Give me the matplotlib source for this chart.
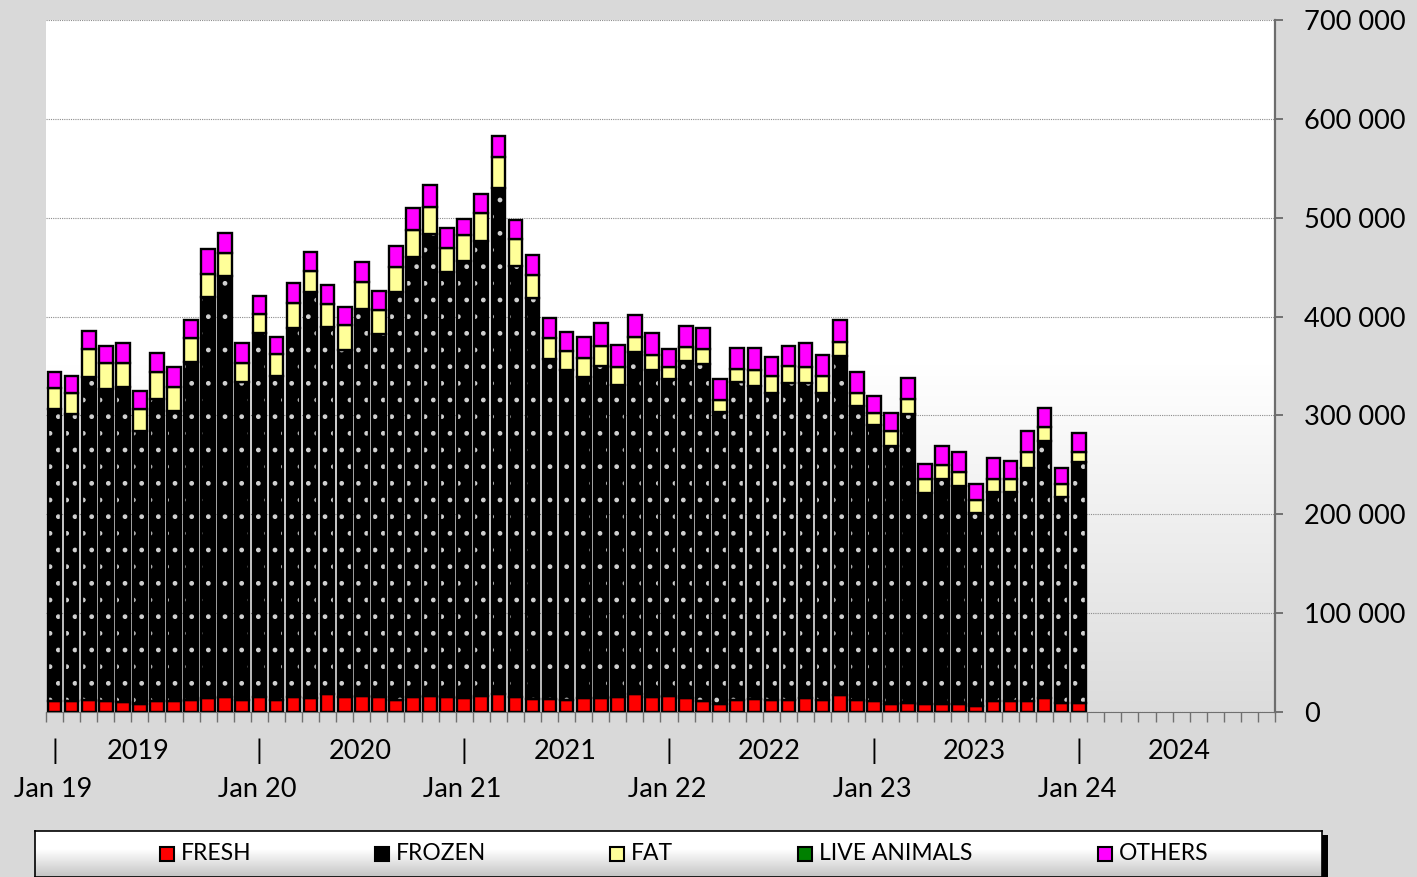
import numpy as np
import matplotlib
matplotlib.use('Agg')
import matplotlib.pyplot as plt
from matplotlib.patches import Rectangle
from matplotlib.colors import LinearSegmentedColormap

plt.rcParams['font.family'] = ['Lato', 'DejaVu Sans']
plt.rcParams['hatch.linewidth'] = 1.0

# monthly tonnes, Jan 2019 .. Jan 2024 (61 months)
fresh = [11000, 11000, 12500, 11000, 9800, 8000, 11000, 11000, 12500, 13800, 15500, 12500,
         15500, 12500, 15500, 13800, 18500, 15500, 16500, 15500, 12500, 15500, 16500, 15500,
         13800, 16500, 18000, 15000, 13000, 13000, 12000, 14000, 14000, 15000, 18000, 15000,
         16000, 14000, 11000, 8000, 12000, 13000, 12000, 12000, 13800, 12000, 16800, 12000,
         10800, 7800, 9000, 7800, 7800, 7800, 6000, 10800, 10800, 10800, 13800, 9000,
         9000]
frozen = [296000, 290000, 326500, 316000, 319200, 276600, 306000, 293500, 341500, 406200, 425500, 321500,
          368200, 327500, 373300, 410700, 371300, 350500, 391500, 366500, 412500, 445100, 467500, 429300,
          442700, 459500, 511700, 436500, 405500, 343700, 334000, 324600, 336300, 315800, 345800, 331000,
          320800, 341400, 341000, 295800, 322000, 316800, 310400, 321000, 319200, 310400, 343200, 297800,
          279200, 261200, 292000, 214200, 228200, 221200, 195600, 212000, 212000, 236200, 260200, 208800,
          244000]
fat = [21000, 22000, 28000, 26000, 24000, 21900, 26600, 24500, 24000, 23000, 23000, 19000,
       18900, 21800, 25200, 21500, 23200, 25500, 26700, 25000, 25500, 27000, 27000, 24900,
       26000, 29000, 31300, 26500, 23500, 21300, 19000, 19200, 20300, 18200, 15900, 15000,
       12200, 14100, 15000, 12200, 12600, 16200, 17500, 17300, 16000, 17600, 14600, 12600,
       12800, 15000, 16000, 13700, 14000, 14000, 12900, 13200, 12900, 15700, 14600, 12800,
       10300]
live_animals = [0, 0, 0, 0, 0, 0, 0, 0, 0, 0, 0, 0,
                0, 0, 0, 0, 0, 0, 0, 0, 0, 0, 0, 0,
                0, 0, 0, 0, 0, 0, 0, 0, 0, 0, 0, 0,
                0, 0, 0, 0, 0, 0, 0, 0, 0, 0, 0, 0,
                0, 0, 0, 0, 0, 0, 0, 0, 0, 0, 0, 0,
                0]
others = [16000, 17000, 18000, 17000, 20000, 18500, 19400, 20000, 19000, 25000, 21000, 20600,
          18400, 17900, 19600, 19600, 19000, 18500, 20300, 19000, 20500, 22400, 22000, 20300,
          16500, 19000, 21700, 20000, 20000, 21000, 19700, 21200, 23400, 22000, 21900, 22700,
          18000, 21300, 21000, 20700, 21900, 22500, 19500, 19700, 24000, 21000, 22400, 21600,
          17200, 18000, 21000, 15300, 19000, 20000, 16500, 21000, 18300, 21300, 19400, 15900,
          19200]

series_names = ['FRESH', 'FROZEN', 'FAT', 'LIVE ANIMALS', 'OTHERS']
series_colors = ['#ff0000', '#000000', '#ffff99', '#008000', '#ff00ff']
years = ['2019', '2020', '2021', '2022', '2023', '2024']
jan_labels = ['Jan 19', 'Jan 20', 'Jan 21', 'Jan 22', 'Jan 23', 'Jan 24']

fig = plt.figure(figsize=(14.17, 8.77), dpi=100, facecolor='#d9d9d9')
ax = fig.add_axes([46 / 1417, 165 / 877, 1229 / 1417, 692 / 877])

# plot area background: white fading to grey at the bottom
bg = LinearSegmentedColormap.from_list('bg', [(0, '#dcdcdc'), (0.5, '#ffffff'), (1, '#ffffff')])
ax.imshow(np.linspace(0, 1, 256).reshape(-1, 1), cmap=bg, origin='lower', aspect='auto',
          extent=[-0.5, 71.5, 0, 700000], zorder=-2)

x = np.arange(len(fresh))
bottom = np.zeros(len(x))
for name, vals, col in zip(series_names, [fresh, frozen, fat, live_animals, others], series_colors):
    vals = np.array(vals)
    if name == 'FROZEN':
        ax.bar(x, vals, 0.8, bottom=bottom, color=col, edgecolor='#d0d0d0', linewidth=0,
               hatch='.', zorder=2)
        ax.bar(x, vals, 0.8, bottom=bottom, fill=False, edgecolor='black', linewidth=1.7, zorder=3)
    elif vals.any():
        ax.bar(x, vals, 0.8, bottom=bottom, color=col, edgecolor='black', linewidth=1.7, zorder=3)
    bottom += vals

ax.set_xlim(-0.5, 71.5)
ax.set_ylim(0, 700000)
ax.set_yticks(np.arange(0, 700001, 100000))
ax.yaxis.set_major_formatter(lambda v, p: f'{int(v):,}'.replace(',', ' '))
ax.yaxis.tick_right()
ax.tick_params(axis='y', length=6, width=1.2, color='#606060', labelsize=19.5, pad=15)
ax.yaxis.grid(True, linestyle=(0, (1, 1)), color='#8c8c8c', linewidth=0.8)
ax.set_axisbelow(True)

ax.set_xticks([])
ax.set_xticks(np.arange(-0.5, 72, 1), minor=True)
ax.tick_params(axis='x', which='minor', length=7, width=1, color='#707070')

for s in ['left', 'top']:
    ax.spines[s].set_visible(False)
ax.spines['right'].set_color('#6d6d6d')
ax.spines['right'].set_linewidth(1.6)
ax.spines['bottom'].set_color('#707070')

trans = ax.get_xaxis_transform()
year_x = [4.9, 17.9, 29.9, 41.9, 53.9, 65.9]
for i in range(6):
    ax.text(12 * i, -0.057, '|', transform=trans, ha='center', va='center', fontsize=19.5)
    ax.text(year_x[i], -0.057, years[i], transform=trans, ha='center', va='center', fontsize=19.5)
    ax.text(12 * i - 0.1, -0.112, jan_labels[i], transform=trans, ha='center', va='center',
            fontsize=19.5)

# legend box
shadow = Rectangle((1322 / 1417, 0), 6 / 1417, 42 / 877, transform=fig.transFigure,
                   facecolor='black', edgecolor='none')
fig.patches.append(shadow)
lax = fig.add_axes([35 / 1417, 0, 1287 / 1417, 46 / 877])
lgrad = LinearSegmentedColormap.from_list('lg', [(0, '#c4c4c4'), (0.6, '#ffffff'), (1, '#ffffff')])
lax.imshow(np.linspace(0, 1, 64).reshape(-1, 1), cmap=lgrad, origin='lower', aspect='auto',
           extent=[0, 1287, 0, 46])
lax.set_xlim(0, 1287)
lax.set_ylim(0, 46)
lax.set_xticks([])
lax.set_yticks([])
for s in lax.spines.values():
    s.set_color('black')
    s.set_linewidth(1.2)
marker_x = [125, 340, 575, 763, 1063]
for mx, name, col in zip(marker_x, series_names, series_colors):
    lax.add_patch(Rectangle((mx, 16), 14, 14, facecolor=col, edgecolor='black', linewidth=1.5))
    lax.text(mx + 21, 23, name, va='center', ha='left', fontsize=16.5)

fig.savefig('out.png', dpi=100, facecolor=fig.get_facecolor())
